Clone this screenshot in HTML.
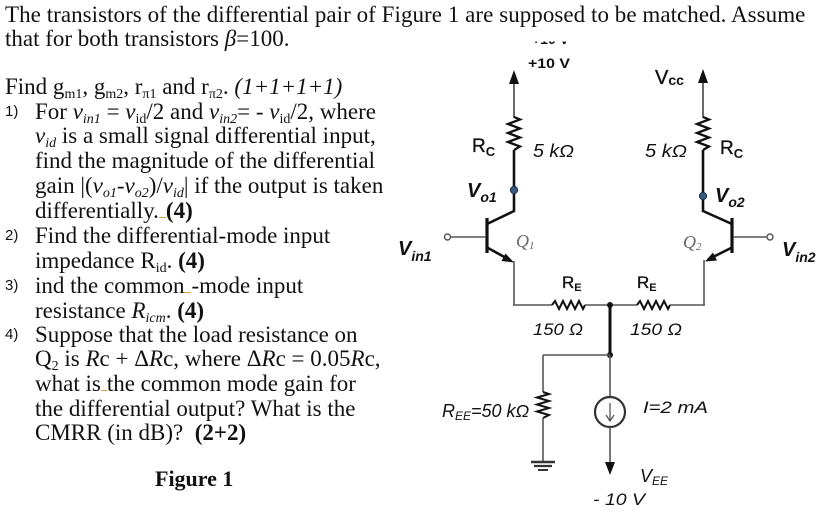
<!DOCTYPE html>
<html><head><meta charset="utf-8">
<style>
html,body{margin:0;padding:0;background:#fff;}
body{width:826px;height:516px;position:relative;overflow:hidden;font-family:"Liberation Serif",serif;color:#111;}
.l{position:absolute;left:5px;font-size:23px;line-height:25px;white-space:nowrap;}
.t{left:35px;}
.n{position:absolute;left:5px;font-family:"Liberation Sans",sans-serif;font-size:15px;line-height:25px;}
.s{font-size:14px;position:relative;top:4px;}
i{font-style:italic;}
b{font-weight:bold;}
.u{border-bottom:1.5px solid #d9a23c;display:inline-block;width:7px;height:17px;}
svg{position:absolute;left:0;top:0;}
</style></head><body>
<div class="l" style="top:2px;letter-spacing:0.05px">The transistors of the differential pair of Figure 1 are supposed to be matched. Assume</div>
<div class="l" style="top:26px">that for both transistors <i>β</i>=100.</div>
<div class="l" style="top:74px">Find g<span class="s">m1</span>, g<span class="s">m2</span>, r<span class="s">π1</span> and r<span class="s">π2</span>. <i>(1+1+1+1)</i></div>
<div class="n" style="top:99px">1)</div>
<div class="l t" style="top:99px">For <i>v<span class="s">in1</span></i> = <i>v</i><span class="s">id</span>/2 and <i>v<span class="s">in2</span></i>= - <i>v</i><span class="s">id</span>/2, where</div>
<div class="l t" style="top:123px"><i>v<span class="s">id</span></i> is a small signal differential input,</div>
<div class="l t" style="top:148px">find the magnitude of the differential</div>
<div class="l t" style="top:173px">gain |(<i>v<span class="s">o1</span></i>-<i>v<span class="s">o2</span></i>)/<i>v<span class="s">id</span></i>| if the output is taken</div>
<div class="l t" style="top:198px">differentially.<span class="u"></span><b>(4)</b></div>
<div class="n" style="top:223px">2)</div>
<div class="l t" style="top:223px">Find the differential-mode input</div>
<div class="l t" style="top:248px">impedance R<span class="s">id</span>. <b>(4)</b></div>
<div class="n" style="top:273px">3)</div>
<div class="l t" style="top:273px">ind the common<span class="u"></span>-mode input</div>
<div class="l t" style="top:298px">resistance <i>R<span class="s">icm</span></i>. <b>(4)</b></div>
<div class="n" style="top:322px">4)</div>
<div class="l t" style="top:322px">Suppose that the load resistance on</div>
<div class="l t" style="top:346px">Q<span class="s">2</span> is <i>R</i>c + Δ<i>R</i>c, where Δ<i>R</i>c = 0.05<i>R</i>c,</div>
<div class="l t" style="top:371px">what is<span class="u" style="width:6px"></span>the common mode gain for</div>
<div class="l t" style="top:396px">the differential output? What is the</div>
<div class="l t" style="top:420px">CMRR (in dB)?&nbsp; <b>(2+2)</b></div>
<div class="l" style="top:466px;left:155px;font-weight:bold;font-size:22px">Figure 1</div>

<svg width="826" height="516" viewBox="0 0 826 516" xmlns="http://www.w3.org/2000/svg">
<defs><clipPath id="cp"><rect x="520" y="41.5" width="80" height="4"/></clipPath></defs>
<g font-family="Liberation Sans, sans-serif" fill="#111">
<text x="532" y="44" font-size="14" font-weight="bold" clip-path="url(#cp)">+10 V</text>

<!-- left branch -->
<line x1="514" y1="82" x2="514" y2="118" stroke="#444" stroke-width="1.6"/>
<polygon points="514,70 509,84 519,84" fill="#111"/>
<polyline points="514,117 520,119.5 508,124 520,128.5 508,133 520,137.5 508,142 520,146.5 514,150" fill="none" stroke="#111" stroke-width="2.3"/>
<line x1="514" y1="150" x2="514" y2="212" stroke="#111" stroke-width="2.6"/>
<circle cx="514" cy="190" r="3.6" fill="#3a5a80" stroke="#1a2a40" stroke-width="1"/>
<line x1="514" y1="211" x2="487" y2="224" stroke="#111" stroke-width="2.6"/>
<line x1="487" y1="218" x2="487" y2="253" stroke="#111" stroke-width="3.2"/>
<line x1="450" y1="237" x2="486" y2="237" stroke="#555" stroke-width="1.5"/>
<circle cx="447.5" cy="237" r="3" fill="#fff" stroke="#555" stroke-width="1.4"/>
<line x1="488" y1="248" x2="508" y2="259" stroke="#111" stroke-width="2.6"/>
<polygon points="514,262.5 505.5,253.5 501.5,261" fill="#111"/>
<line x1="514" y1="261" x2="514" y2="305" stroke="#555" stroke-width="1.6"/>

<!-- right branch -->
<line x1="703" y1="82" x2="703" y2="118" stroke="#444" stroke-width="1.6"/>
<polygon points="703,69 698,83 708,83" fill="#111"/>
<polyline points="703,117 709,119.5 697,124 709,128.5 697,133 709,137.5 697,142 709,146.5 703,150" fill="none" stroke="#111" stroke-width="2.3"/>
<line x1="703" y1="150" x2="703" y2="212" stroke="#111" stroke-width="2.6"/>
<circle cx="703" cy="196" r="3.6" fill="#3a5a80" stroke="#1a2a40" stroke-width="1"/>
<line x1="703" y1="211" x2="732" y2="224" stroke="#111" stroke-width="2.6"/>
<line x1="732" y1="218" x2="732" y2="253" stroke="#111" stroke-width="3.2"/>
<line x1="733" y1="237" x2="767" y2="237" stroke="#555" stroke-width="1.5"/>
<circle cx="770" cy="237" r="3" fill="#fff" stroke="#555" stroke-width="1.4"/>
<line x1="731" y1="248" x2="711" y2="258" stroke="#111" stroke-width="2.6"/>
<polygon points="705,261.5 717,260.5 713,252.5" fill="#111"/>
<line x1="704" y1="260" x2="704" y2="305" stroke="#555" stroke-width="1.6"/>

<!-- emitter resistors -->
<line x1="513" y1="305" x2="552" y2="305" stroke="#555" stroke-width="1.6"/>
<polyline points="552,305 555,301 559,309 563,301 567,309 571,301 575,309 579,301 583,309 585,305" fill="none" stroke="#111" stroke-width="2"/>
<line x1="585" y1="305" x2="637" y2="305" stroke="#555" stroke-width="1.6"/>
<polyline points="637,305 640,301 644,309 648,301 652,309 656,301 660,309 664,301 668,309 670,305" fill="none" stroke="#111" stroke-width="2"/>
<line x1="670" y1="305" x2="705" y2="305" stroke="#555" stroke-width="1.6"/>
<circle cx="610" cy="305" r="3" fill="#111"/>
<line x1="610" y1="305" x2="610" y2="355" stroke="#111" stroke-width="3"/>
<circle cx="610" cy="355" r="3" fill="#111"/>
<line x1="543" y1="355" x2="610" y2="355" stroke="#555" stroke-width="1.6"/>

<!-- REE -->
<line x1="543" y1="355" x2="543" y2="392" stroke="#555" stroke-width="1.6"/>
<polyline points="543,392 549,394 537,397.5 549,401 537,404.5 549,408 537,411.5 549,415 543,418" fill="none" stroke="#111" stroke-width="2"/>
<line x1="543" y1="418" x2="543" y2="462" stroke="#555" stroke-width="1.6"/>
<line x1="531" y1="462" x2="555" y2="462" stroke="#333" stroke-width="2.4"/>
<line x1="534" y1="466" x2="552" y2="466" stroke="#333" stroke-width="2.2"/>
<line x1="538" y1="470" x2="548" y2="470" stroke="#333" stroke-width="2"/>

<!-- current source -->
<line x1="610" y1="355" x2="610" y2="397" stroke="#555" stroke-width="1.6"/>
<circle cx="610" cy="412" r="15" fill="#fff" stroke="#333" stroke-width="2.2"/>
<line x1="610" y1="403" x2="610" y2="420" stroke="#555" stroke-width="1.3"/>
<polyline points="606,415 610,421 614,415" fill="none" stroke="#555" stroke-width="1.3"/>
<line x1="610" y1="427" x2="610" y2="464" stroke="#555" stroke-width="1.6"/>
<polygon points="610,475 605,462 615,462" fill="#111"/>

<!-- labels -->
<g stroke="#111" stroke-width="0.35">
<text x="528" y="68" font-size="14" font-weight="bold" textLength="42" lengthAdjust="spacingAndGlyphs" stroke="none">+10 V</text>
<text x="655" y="84" font-size="20">V<tspan font-size="14" dy="1" font-weight="bold" stroke="none">cc</tspan></text>
<text x="472" y="152" font-size="19">R<tspan font-size="13" dy="4" font-weight="bold" stroke="none">C</tspan></text>
<text x="720" y="154" font-size="19">R<tspan font-size="13" dy="4" font-weight="bold" stroke="none">C</tspan></text>
<text x="562" y="288" font-size="17">R<tspan font-size="11" dy="3" font-weight="bold" stroke="none">E</tspan></text>
<text x="637" y="288" font-size="17">R<tspan font-size="11" dy="3" font-weight="bold" stroke="none">E</tspan></text>
</g>
<text x="533" y="157" font-size="18" font-style="italic" textLength="41" lengthAdjust="spacingAndGlyphs">5 kΩ</text>
<text x="645" y="157" font-size="18" font-style="italic" textLength="42" lengthAdjust="spacingAndGlyphs">5 kΩ</text>
<text x="467" y="197" font-size="20" font-style="italic" font-weight="bold">V<tspan font-size="14" dy="5">o1</tspan></text>
<text x="715" y="202" font-size="20" font-style="italic" font-weight="bold">V<tspan font-size="14" dy="5">o2</tspan></text>
<text x="398" y="255" font-size="20" font-style="italic" font-weight="bold">V<tspan font-size="14" dy="6">in1</tspan></text>
<text x="782" y="256" font-size="20" font-style="italic" font-weight="bold">V<tspan font-size="14" dy="6">in2</tspan></text>
<text x="516" y="247" font-size="18" font-style="italic" fill="#666" font-family="Liberation Serif, serif">Q<tspan font-size="11" dy="2">1</tspan></text>
<text x="683" y="248" font-size="18" font-style="italic" fill="#666" font-family="Liberation Serif, serif">Q<tspan font-size="11" dy="2">2</tspan></text>
<text x="533" y="335" font-size="17" font-style="italic" textLength="50" lengthAdjust="spacingAndGlyphs">150 Ω</text>
<text x="630" y="335" font-size="17" font-style="italic" textLength="52" lengthAdjust="spacingAndGlyphs">150 Ω</text>
<text x="442" y="417" font-size="18" font-style="italic">R<tspan font-size="12" dy="3">EE</tspan><tspan dy="-3">=50 kΩ</tspan></text>
<text x="643" y="413" font-size="17" font-style="italic" textLength="65" lengthAdjust="spacingAndGlyphs">I=2 mA</text>
<text x="640" y="482" font-size="18" font-style="italic">V<tspan font-size="12" dy="3">EE</tspan></text>
<text x="593" y="505" font-size="17" font-style="italic" textLength="52" lengthAdjust="spacingAndGlyphs">- 10 V</text>
</g>
</svg>
</body></html>
